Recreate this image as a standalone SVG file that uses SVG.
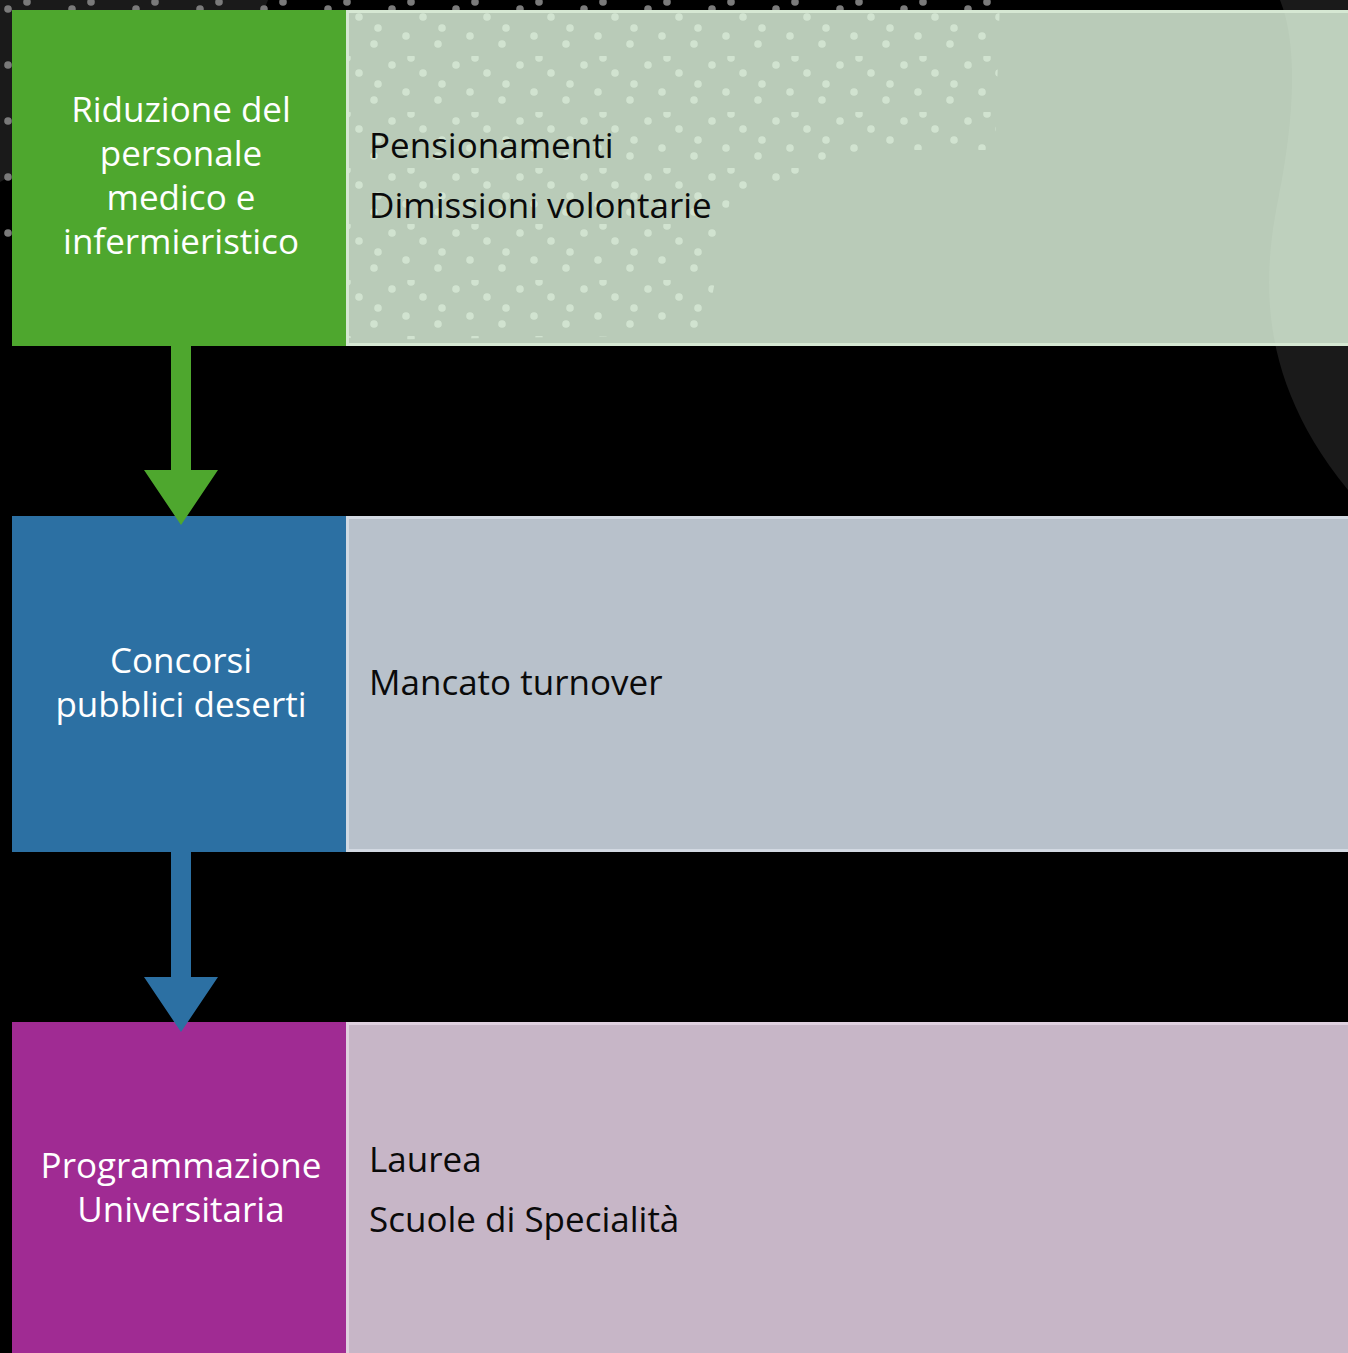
<svg xmlns="http://www.w3.org/2000/svg" width="1348" height="1353" viewBox="0 0 1348 1353">
  <defs>
    <style>
      .lbl { font-family: "Open Sans", "Liberation Sans", sans-serif; font-size: 35px; fill: #ffffff; text-anchor: middle; }
      .item { font-family: "Open Sans", "Liberation Sans", sans-serif; font-size: 35px; fill: #0a0a0a; }
      .panel { stroke-width: 3; }
    </style>
    <pattern id="dots" patternUnits="userSpaceOnUse" width="64" height="56">
      <circle cx="8" cy="9" r="3.8" fill="#7a7a7a"/>
      <circle cx="39" cy="17" r="3.8" fill="#7a7a7a"/>
      <circle cx="22" cy="36" r="3.8" fill="#7a7a7a"/>
      <circle cx="54" cy="44" r="3.8" fill="#7a7a7a"/>
      <circle cx="27" cy="2" r="3.8" fill="#7a7a7a"/>
      <circle cx="58" cy="28" r="3.8" fill="#7a7a7a"/>
    </pattern>
    <clipPath id="dotArea">
      <path d="M0,0 L1000,0 L995,150 L880,150 L730,200 L705,335 L360,340 L0,270 Z"/>
    </clipPath>
  </defs>

  <!-- background -->
  <rect x="0" y="0" width="1348" height="1353" fill="#000000"/>
  <path d="M0,0 L268,0 L252,40 L0,182 Z" fill="#1a1a1a"/>
  <path d="M1280,0 C1300,50 1292,130 1278,200 C1262,280 1258,380 1348,490 L1348,0 Z" fill="#1a1a1a"/>
  <rect x="0" y="0" width="1000" height="340" fill="url(#dots)" clip-path="url(#dotArea)"/>

  <!-- row 1 -->
  <g id="node-riduzione">
    <rect x="347.5" y="11.5" width="1010" height="333" class="panel" fill="#e7fee6" fill-opacity="0.8" stroke="#d6e8d3"/>
    <rect x="12" y="10" width="334" height="336" fill="#4ea72e"/>
    <text class="lbl" x="181" y="122">Riduzione del</text>
    <text class="lbl" x="181" y="166">personale</text>
    <text class="lbl" x="181" y="210">medico e</text>
    <text class="lbl" x="181" y="254">infermieristico</text>
    <text class="item" x="369" y="158">Pensionamenti</text>
    <text class="item" x="369" y="218">Dimissioni volontarie</text>
  </g>

  <!-- row 2 -->
  <g id="node-concorsi">
    <rect x="347.5" y="517.5" width="1010" height="333" class="panel" fill="#e6f1fe" fill-opacity="0.8" stroke="#d2d9e2"/>
    <rect x="12" y="516" width="334" height="336" fill="#2c70a3"/>
    <text class="lbl" x="181" y="673">Concorsi</text>
    <text class="lbl" x="181" y="717">pubblici deserti</text>
    <text class="item" x="369" y="695">Mancato turnover</text>
  </g>

  <!-- row 3 -->
  <g id="node-programmazione">
    <rect x="347.5" y="1023.5" width="1010" height="340" class="panel" fill="#f9e4f9" fill-opacity="0.8" stroke="#dfd0df"/>
    <rect x="12" y="1022" width="334" height="340" fill="#a02b93"/>
    <text class="lbl" x="181" y="1178">Programmazione</text>
    <text class="lbl" x="181" y="1222">Universitaria</text>
    <text class="item" x="369" y="1172">Laurea</text>
    <text class="item" x="369" y="1232">Scuole di Specialità</text>
  </g>

  <!-- connectors -->
  <g id="connectors">
    <polygon points="171,346 191,346 191,470 218,470 181,525 144,470 171,470" fill="#4ea72e"/>
    <polygon points="171,852 191,852 191,977 218,977 181,1032 144,977 171,977" fill="#2c70a3"/>
  </g>
</svg>
